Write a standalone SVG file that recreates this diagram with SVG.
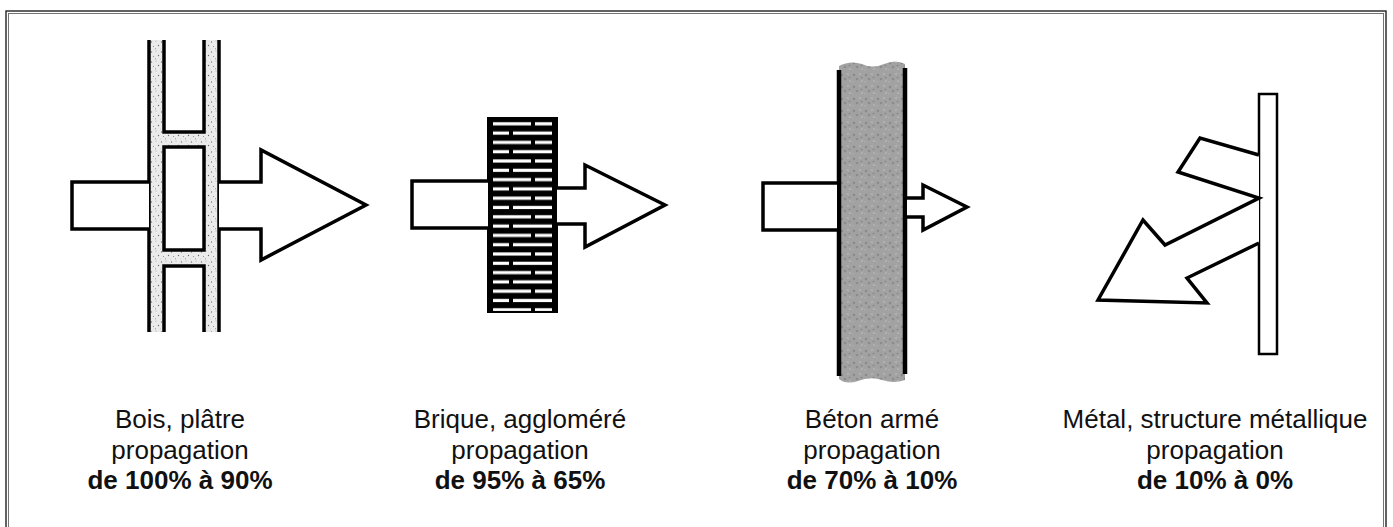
<svg xmlns="http://www.w3.org/2000/svg" width="1393" height="527" viewBox="0 0 1393 527">
  <style>
    .outline { fill: #ffffff; stroke: #000000; stroke-width: 3.5; stroke-linejoin: miter; }
    .edge { fill: none; stroke: #000000; stroke-width: 3.5; }
    .lbl { font-family: "Liberation Sans", Arial, sans-serif; font-size: 26px; fill: #111111; text-anchor: middle; }
    .b { font-weight: bold; }
  </style>
  <defs>
    <pattern id="stipple" width="10" height="10" patternUnits="userSpaceOnUse">
      <rect width="10" height="10" fill="#ebebeb"/>
      <circle cx="1.5" cy="2" r="0.7" fill="#7a7a7a"/>
      <circle cx="6" cy="1" r="0.5" fill="#999999"/>
      <circle cx="8.5" cy="5.5" r="0.7" fill="#6e6e6e"/>
      <circle cx="3.5" cy="6.5" r="0.6" fill="#8a8a8a"/>
      <circle cx="5.5" cy="8.8" r="0.5" fill="#777777"/>
      <circle cx="0.8" cy="9" r="0.4" fill="#aaaaaa"/>
    </pattern>
    <pattern id="grain" width="12" height="12" patternUnits="userSpaceOnUse">
      <rect width="12" height="12" fill="#a2a2a2"/>
      <circle cx="2" cy="3" r="1.2" fill="#888888"/>
      <circle cx="8" cy="2" r="1" fill="#b6b6b6"/>
      <circle cx="5" cy="7" r="1.3" fill="#8c8c8c"/>
      <circle cx="10" cy="9" r="1.1" fill="#b3b3b3"/>
      <circle cx="1" cy="10" r="0.9" fill="#aaaaaa"/>
      <circle cx="9.5" cy="5.5" r="0.8" fill="#808080"/>
    </pattern>
    <pattern id="bricks" x="488" y="118" width="69" height="18.6" patternUnits="userSpaceOnUse">
      <rect width="69" height="18.6" fill="#000000"/>
      <rect x="5" y="4.2" width="38" height="3.2" fill="#ffffff"/>
      <rect x="47" y="4.2" width="17" height="3.2" fill="#ffffff"/>
      <rect x="5" y="13.5" width="16" height="3.2" fill="#ffffff"/>
      <rect x="25" y="13.5" width="39" height="3.2" fill="#ffffff"/>
    </pattern>
  </defs>

  <g id="frame">
    <rect x="6" y="11" width="1380" height="530" fill="none" stroke="#222222" stroke-width="1.4"/>
    <rect x="8.5" y="13.5" width="1375" height="530" fill="none" stroke="#666666" stroke-width="0.9"/>
  </g>

  <g id="bois">
    <rect x="149" y="40" width="70" height="292" fill="url(#stipple)"/>
    <line class="edge" x1="149" y1="40" x2="149" y2="332"/>
    <line class="edge" x1="219" y1="40" x2="219" y2="332"/>
    <path class="outline" d="M164,40 V132 H204 V40"/>
    <rect class="outline" x="164" y="147" width="40" height="103"/>
    <path class="outline" d="M164,332 V266 H204 V332"/>
    <path class="outline" d="M149,182 H72 V229 H149"/>
    <path class="outline" d="M219,182 H261 V150 L366,205 L261,260 V229 H219"/>
  </g>

  <g id="brique">
    <rect x="488" y="118" width="69" height="194" fill="url(#bricks)" stroke="#000000" stroke-width="2"/>
    <path class="outline" d="M488,181 H412 V228 H488"/>
    <path class="outline" d="M557,188 H585 V165 L665,205 L585,247 V224 H557"/>
  </g>

  <g id="beton">
    <path d="M839,66 Q850,60 862,64 Q872,69 884,64 Q896,59 905,64 V380 Q894,384 882,380 Q870,376 858,381 Q846,385 839,379 Z" fill="url(#grain)"/>
    <line x1="839" y1="70" x2="839" y2="376" stroke="#000000" stroke-width="4.5"/>
    <line x1="905" y1="68" x2="905" y2="374" stroke="#000000" stroke-width="4.5"/>
    <path class="outline" d="M837,183 H763 V230 H837"/>
    <path class="outline" d="M907,198 H923 V185 L967,207 L923,230 V217 H907"/>
  </g>

  <g id="metal">
    <rect x="1259" y="94" width="18" height="260" fill="#ffffff" stroke="#000000" stroke-width="2.5"/>
    <path class="outline" d="M1259,155 L1200,138 L1178,172 L1259,198 L1165,245 L1143,220 L1098,300 L1207,303 L1187,278 L1259,243"/>
  </g>

  <g id="labels">
    <text class="lbl" x="180" y="428">Bois, plâtre</text>
    <text class="lbl" x="180" y="459">propagation</text>
    <text class="lbl b" x="180" y="489">de 100% à 90%</text>

    <text class="lbl" x="520" y="428">Brique, aggloméré</text>
    <text class="lbl" x="520" y="459">propagation</text>
    <text class="lbl b" x="520" y="489">de 95% à 65%</text>

    <text class="lbl" x="872" y="428">Béton armé</text>
    <text class="lbl" x="872" y="459">propagation</text>
    <text class="lbl b" x="872" y="489">de 70% à 10%</text>

    <text class="lbl" x="1215" y="428">Métal, structure métallique</text>
    <text class="lbl" x="1215" y="459">propagation</text>
    <text class="lbl b" x="1215" y="489">de 10% à 0%</text>
  </g>
</svg>
